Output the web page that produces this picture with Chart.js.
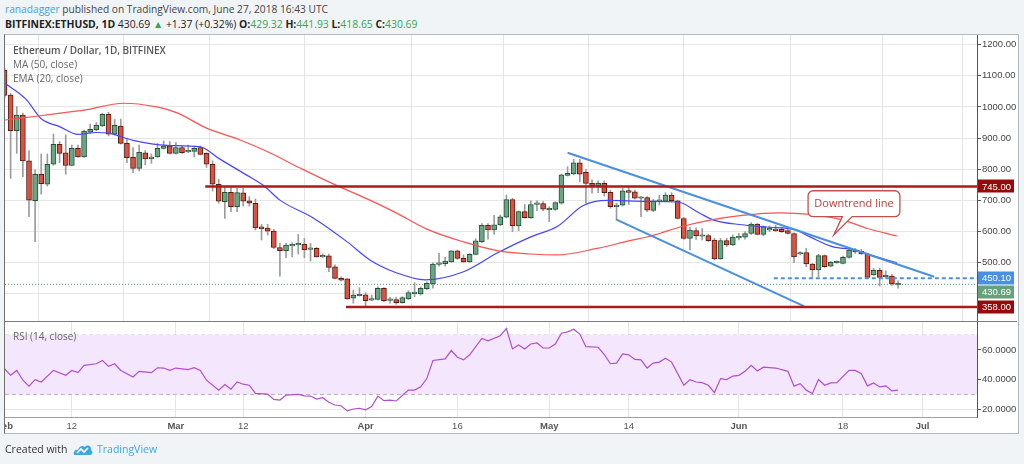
<!DOCTYPE html>
<html><head><meta charset="utf-8">
<script src="https://cdn.jsdelivr.net/npm/chart.js@4.4.1/dist/chart.umd.min.js"></script>
<style>
html,body{margin:0;padding:0;}
body{width:1024px;height:464px;background:#f1f4f7;position:relative;overflow:hidden;font-family:"Open Sans",sans-serif;color:#333;}
.abs{position:absolute;white-space:nowrap;}
#frame{position:absolute;left:4px;top:34px;width:1013px;height:398px;border:1px solid #b4b8bc;border-left-color:#707070;background:#fff;}
canvas{position:absolute;}
.g{color:#39a34f;}
.leg{font-size:10px;line-height:12px;color:#666;left:13px;}
</style></head>
<body>
<div class="abs" style="left:5px;top:3px;color:#444;font-size:10.2px;line-height:12px;"><span style="color:#3ea3dc">ranadagger</span> published on TradingView.com, June 27, 2018 16:43 UTC</div>
<div class="abs" style="left:5px;top:18px;color:#222;font-size:10.4px;line-height:12px;"><b>BITFINEX:ETHUSD, 1D</b> 430.69 <span class="g">▲</span> +1.37 (+0.32%) <b>O:</b><span class="g">429.32</span> <b>H:</b><span class="g">441.93</span> <b>L:</b><span class="g">418.65</span> <b>C:</b><span class="g">430.69</span></div>
<div id="frame"></div>
<canvas id="price" width="1012" height="286" style="left:5px;top:35px;"></canvas>
<canvas id="rsi" width="1012" height="112" style="left:5px;top:321px;"></canvas>
<div class="abs" style="left:5px;top:321px;width:1012px;height:1px;background:#7a7a7a;"></div>
<div class="abs leg" style="top:44px;color:#555;font-weight:600;">Ethereum / Dollar, 1D, BITFINEX</div>
<div class="abs leg" style="top:58px;">MA (50, close)</div>
<div class="abs leg" style="top:72px;">EMA (20, close)</div>
<div class="abs leg" style="top:330px;">RSI (14, close)</div>
<div class="abs" style="left:5px;top:442px;font-size:10.5px;line-height:14px;color:#333;">Created with</div>
<svg class="abs" style="left:73px;top:443px;" width="20" height="13" viewBox="0 0 20 13">
<path d="M1 12 C0 8 3 6 5 7 C6 3 10 2 12 4 C14 1 19 3 18 7 C20 8 20 12 17 12 Z" fill="#3aa9e2"/>
<path d="M4 10 L8 6 L11 9 L15 5" stroke="#fff" stroke-width="1.6" fill="none"/>
</svg>
<div class="abs" style="left:97px;top:442px;font-size:10.5px;line-height:14px;color:#3aa9e2;">TradingView</div>
<script>
// ---- data (day index 0 = 1 Feb 2018) ----
const opens  = [1118,1038,924,974,827,699,784,752,816,880,853,812,867,840,919,926,939,976,913,939,883,838,803,853,834,840,867,875,851,870,856,857,870,851,816,752,696,726,680,724,699,691,615,611,602,549,539,554,557,560,543,546,519,522,487,450,448,386,394,397,380,382,418,379,382,372,384,401,400,417,432,495,497,503,538,514,503,527,568,620,605,621,646,703,618,664,645,687,690,670,671,691,780,785,821,790,755,747,755,726,680,685,732,728,707,709,668,697,698,717,699,642,578,603,585,587,573,512,571,557,580,582,594,624,591,605,607,607,603,594,528,533,496,477,523,489,500,498,517,541,537,528,461,476,455,457,429.32];
const highs  = [1125,1044,1001,980,860,798,849,849,913,889,910,878,878,926,945,950,980,983,960,961,899,870,878,860,849,883,891,889,886,876,878,873,875,853,827,768,744,744,739,739,712,705,623,623,607,562,562,565,591,578,562,549,528,528,493,455,449,412,420,404,396,423,420,389,389,391,410,436,423,439,500,530,517,539,541,525,530,577,626,626,652,653,717,707,667,687,699,699,696,680,696,785,808,832,832,800,766,763,763,733,691,739,742,733,712,712,704,717,725,725,701,646,614,612,610,592,578,578,578,589,594,600,629,626,618,618,620,614,610,596,535,546,498,527,525,505,506,521,548,546,543,530,482,482,474,464,441.93];
const lows   = [1030,771,851,776,648,568,720,746,813,821,784,811,838,838,915,924,937,907,910,881,821,789,795,814,819,838,865,849,849,851,853,840,846,806,730,691,642,664,664,682,682,605,573,589,545,457,516,519,528,516,505,518,517,471,448,442,383,370,393,359,378,380,375,370,367,370,382,391,396,414,418,489,489,501,511,501,501,525,565,576,591,619,644,600,603,643,642,667,667,632,668,688,778,782,760,691,723,725,714,675,639,682,687,704,648,664,664,685,696,696,640,575,541,575,573,568,509,511,552,555,573,576,591,589,586,600,600,597,592,500,525,487,453,455,485,487,498,496,515,530,527,451,459,425,450,427,418.65];
const closes = [1037,924,974,827,701,784,754,816,880,851,812,867,840,923,928,942,976,913,941,883,837,803,854,833,839,867,875,851,870,853,859,867,848,816,752,698,726,680,725,698,691,612,609,601,549,539,557,559,562,541,547,519,522,485,450,444,384,396,397,378,385,418,378,382,372,388,404,402,418,434,496,498,505,538,514,503,527,570,620,605,622,647,703,618,664,645,687,692,672,674,693,782,787,821,784,755,747,755,725,680,685,731,726,707,711,669,699,700,717,699,642,578,605,586,588,571,512,571,557,582,583,594,624,591,616,611,603,600,594,519,533,496,477,523,487,501,502,517,541,535,528,453,476,453,457,432,430.69];

const maDays    = [0,5.5,11,13,19.4,24.6,28.2,33,38.5,43,48.3,53.7,59.7,64,69,75,80.5,86,90.3,96.8,102,105.5,107,111,115.3,120.5,126.7,131.6,137,141,145.8];
const maValues  = [958,971,985,990,1012,1001,981,932,894,856,804,753,701,660,608,567,539,528,525,546,570,585,594,618,637,652,660,655,637,610,586];
const emaDays   = [0,3.5,6,9,12,15,17,21,26.5,32,35,39.5,42.5,45,50.5,56,59.7,64,68.7,75,80.5,86,90.3,94.5,98.5,105,110,113.6,116,120.5,125,129,131.6,135.4,138.6,142,145.8];
const emaValues = [1077,1025,962,937,912,918,916,893,877,872,835,782,745,701,643,567,509,468,445,471,531,583,616,683,700,697,695,659,636,622,614,607,583,551,543,522,500];

const rsiDays   = [0,1,2,3,4,5,6,8,10,11,12,13,15,16,17,18,19,21,22,24,25,26,27,28,30,31,32,33,35,36,37,38,39,40,41,43,44,45,46,48,49,50,51,52,53,54,55,56,57,58,59,60,61,62,63,64,66,67,68,69,70,72,73,74,75,76,78,79,81,82,83,84,85,86,87,88,89,90,91,92,93,94,95,97,98,99,100,101,102,103,104,105,106,107,108,109,111,112,113,114,115,116,117,118,119,120,121,122,123,124,126,128,129,130,131,132,133,134,135,136,138,139,140,141,142,143,144,145,146];
const rsiValues = [47.3,42.9,46.2,39.6,35.6,40,38.4,46.2,42.9,46.2,44.7,49.6,50.7,52.9,48.9,50.7,46.2,41.8,45.6,44.7,48,47.8,46.2,47.8,46.7,48,46.2,39.6,32.9,36.7,33.6,38.4,36.9,36.2,30.7,30.2,26.7,26.2,29.6,30,29.1,28.9,26.9,27.8,24.7,22.9,22.4,18.9,20.2,20.7,19.6,21.8,28.9,25.8,26.2,25.6,32.9,32.9,35.1,40.7,52.9,54,59.6,55.1,53.3,56.7,67.8,66.2,69.6,74.4,60.7,63.3,60.7,64,64.7,61.3,61.3,64,71.3,72.2,74,70.7,62.2,61.8,56.9,50.7,51.1,57.3,56.7,53.6,53.3,47.8,51.1,51.8,54.4,51.8,36.2,40,38.4,38,36.2,31.3,40.7,40,42.4,42.9,45.6,49.6,45.8,48.4,47.8,45.6,35.6,37.3,32.9,30.7,40,36.2,37.8,38,46.2,46.2,44,35.8,37.8,35.1,35.8,32.4,32.9];

const tickDays   = [0,11,28,39,59,74,89,102,120,137,150];
const tickLabels = ['Feb','12','Mar','12','Apr','16','May','14','Jun','18','Jul'];
const priceTicks = [400,500,600,700,800,900,1000,1100,1200];
const rsiTicks   = [20,40,60];
const rsiBand    = [30,70];

// drawings
const resistance = 745, resistanceFrom = 32.8;
const support = 358, supportFrom = 55.8;
const breakLevel = 450.10, breakFrom = 125.7;
const lastPrice = 430.69;
const upperTrend = [[92.0,853],[151.9,455]];
const lowerTrend = [[99.9,639],[130.6,361]];
const badgePrices = [745.00, 450.10, 430.69, 358.00];
const calloutText = 'Downtrend line';
const callout = {x0:131.3, x1:146.3, yTop:731, yBot:648, base0:136.9, base1:138.5, tipX:135.5, tipY:589};

// ---- view ----
const X_MIN = 0.08, X_MAX = 158.9;
const GRID = '#e6e6e6';
const AXF = '"Liberation Sans", Arial, sans-serif';
const UP = '#6ba583', DOWN = '#d75442', UP_B = '#225437', DOWN_B = '#5b1a13';
const badgeColors = {745:'#930b0b', 450.1:'#4a90e2', 430.69:'#65a27b', 358:'#930b0b'};

const idx = opens.map((_, i) => i);
const bodies = idx.map(i => ({x: i, y: [opens[i], closes[i]]}));
const wicks  = idx.map(i => ({x: i, y: [lows[i], highs[i]]}));
const pts = (xs, ys) => xs.map((x, i) => ({x, y: ys[i]}));
const seg = (a, b) => [{x: a[0], y: a[1]}, {x: b[0], y: b[1]}];
const isUp = i => closes[i] >= opens[i];

const badgePlugin = {
  id: 'badges',
  afterDraw(chart) {
    const {ctx, scales: {y}, chartArea} = chart;
    const items = badgePrices.map(p => ({p, py: y.getPixelForValue(p), bg: badgeColors[p]})).sort((a, b) => a.py - b.py);
    for (let i = 1; i < items.length; i++) if (items[i].py - items[i-1].py < 14) items[i].py = items[i-1].py + 14;
    ctx.save();
    ctx.font = '9.5px ' + AXF;
    ctx.textBaseline = 'middle'; ctx.textAlign = 'left';
    items.forEach(it => {
      ctx.fillStyle = it.bg;
      ctx.fillRect(chartArea.right + 1, Math.round(it.py) - 6.5, 36, 13);
      ctx.fillStyle = '#fff';
      ctx.fillText(it.p.toFixed(2), chartArea.right + 5, it.py + 0.5);
    });
    ctx.restore();
  }
};

const calloutPlugin = {
  id: 'callout',
  afterDatasetsDraw(chart) {
    const {ctx, scales: {x, y}} = chart;
    const L = x.getPixelForValue(callout.x0), R = x.getPixelForValue(callout.x1);
    const T = y.getPixelForValue(callout.yTop), B = y.getPixelForValue(callout.yBot);
    const b0 = x.getPixelForValue(callout.base0), b1 = x.getPixelForValue(callout.base1);
    const tx = x.getPixelForValue(callout.tipX), ty = y.getPixelForValue(callout.tipY);
    const r = 5;
    ctx.save();
    ctx.beginPath();
    ctx.moveTo(L + r, T); ctx.lineTo(R - r, T); ctx.arcTo(R, T, R, T + r, r);
    ctx.lineTo(R, B - r); ctx.arcTo(R, B, R - r, B, r);
    ctx.lineTo(b1, B); ctx.lineTo(tx, ty); ctx.lineTo(b0, B);
    ctx.lineTo(L + r, B); ctx.arcTo(L, B, L, B - r, r);
    ctx.lineTo(L, T + r); ctx.arcTo(L, T, L + r, T, r);
    ctx.closePath();
    ctx.fillStyle = '#ffffff'; ctx.fill();
    ctx.strokeStyle = '#c0504d'; ctx.lineWidth = 1.3; ctx.stroke();
    ctx.fillStyle = '#b0413e'; ctx.font = '11px "Open Sans", sans-serif';
    ctx.textAlign = 'center'; ctx.textBaseline = 'middle';
    ctx.fillText(calloutText, (L + R) / 2, (T + B) / 2 + 0.5);
    ctx.restore();
  }
};

const lineDs = (data, color, width, order, extra) => Object.assign({type: 'line', data, borderColor: color, borderWidth: width, pointRadius: 0, order, fill: false}, extra || {});

new Chart(document.getElementById('price'), {
  type: 'bar',
  data: {datasets: [
    {type: 'bar', data: wicks, backgroundColor: '#9c9c9c', barThickness: 1, grouped: false, order: 5},
    {type: 'bar', data: bodies, grouped: false, order: 4, barThickness: 5, minBarLength: 1.5,
      backgroundColor: c => isUp(c.dataIndex || 0) ? UP : DOWN,
      borderColor: c => isUp(c.dataIndex || 0) ? UP_B : DOWN_B,
      borderWidth: 1, borderSkipped: false},
    lineDs(pts(maDays, maValues), '#ff5252', 1.2, 3, {cubicInterpolationMode: 'monotone'}),
    lineDs(pts(emaDays, emaValues), '#4646ff', 1.2, 3, {cubicInterpolationMode: 'monotone'}),
    lineDs([{x: X_MIN, y: lastPrice}, {x: X_MAX, y: lastPrice}], '#4e9b6b', 1, 2, {borderDash: [1, 2]}),
    lineDs([{x: resistanceFrom, y: resistance}, {x: X_MAX, y: resistance}], '#a81c1c', 2.5, 1),
    lineDs([{x: supportFrom, y: support}, {x: X_MAX, y: support}], '#a81c1c', 2.5, 1),
    lineDs([{x: breakFrom, y: breakLevel}, {x: X_MAX, y: breakLevel}], '#4a8fe0', 2, 1, {borderDash: [4, 3]}),
    lineDs(seg(upperTrend[0], upperTrend[1]), '#4a8fe0', 2, 1),
    lineDs(seg(lowerTrend[0], lowerTrend[1]), '#4a8fe0', 2, 1)
  ]},
  options: {
    responsive: false, animation: false, events: [],
    layout: {padding: 0},
    plugins: {legend: {display: false}, tooltip: {enabled: false}},
    scales: {
      x: {type: 'linear', min: X_MIN, max: X_MAX, offset: false,
        grid: {color: GRID, drawTicks: false}, border: {display: false},
        ticks: {display: false},
        afterBuildTicks: s => { s.ticks = tickDays.map(v => ({value: v})); },
        afterFit: s => { s.height = 0; s.paddingLeft = 0; s.paddingRight = 0; }},
      y: {type: 'linear', position: 'right', min: 313, max: 1231,
        grid: {color: GRID, tickLength: 4, tickColor: '#555'},
        border: {display: true, color: '#555'},
        ticks: {color: '#444', font: {family: AXF, size: 9.5}, padding: 1,
          callback: v => (v === 400 ? '' : v.toFixed(2))},
        afterBuildTicks: s => { s.ticks = priceTicks.map(v => ({value: v})); },
        afterFit: s => { s.width = 40; s.paddingTop = 0; s.paddingBottom = 0; }}
    }
  },
  plugins: [calloutPlugin, badgePlugin]
});

new Chart(document.getElementById('rsi'), {
  type: 'line',
  data: {datasets: [
    lineDs([{x: X_MIN, y: rsiBand[1]}, {x: X_MAX, y: rsiBand[1]}], '#bdb3c2', 1, 3, {borderDash: [4, 3]}),
    lineDs([{x: X_MIN, y: rsiBand[0]}, {x: X_MAX, y: rsiBand[0]}], '#bdb3c2', 1, 2, {borderDash: [4, 3], fill: '-1', backgroundColor: '#f4e6fc'}),
    lineDs(pts(rsiDays, rsiValues), '#b04fce', 1.2, 1)
  ]},
  options: {
    responsive: false, animation: false, events: [],
    layout: {padding: 0},
    plugins: {legend: {display: false}, tooltip: {enabled: false}},
    scales: {
      x: {type: 'linear', min: X_MIN, max: X_MAX, offset: false,
        grid: {color: GRID, drawTicks: false}, border: {display: true, color: '#a0a0a0'},
        ticks: {color: '#555', padding: 4, maxRotation: 0, autoSkip: false,
          font: c => ({family: AXF, size: 9.5, weight: /^[A-Z]/.test(tickLabels[c.index] || '') ? 'bold' : 'normal'}),
          callback: (v, i) => tickLabels[i]},
        afterBuildTicks: s => { s.ticks = tickDays.map(v => ({value: v})); },
        afterFit: s => { s.height = 16; s.paddingLeft = 0; s.paddingRight = 0; }},
      y: {type: 'linear', position: 'right', min: 14.8, max: 79.5,
        grid: {color: GRID, tickLength: 4, tickColor: '#555'},
        border: {display: true, color: '#555'},
        ticks: {color: '#444', font: {family: AXF, size: 9.5}, padding: 1, callback: v => v.toFixed(4)},
        afterBuildTicks: s => { s.ticks = rsiTicks.map(v => ({value: v})); },
        afterFit: s => { s.width = 40; s.paddingTop = 0; s.paddingBottom = 0; }}
    }
  }
});
</script>
</body></html>
